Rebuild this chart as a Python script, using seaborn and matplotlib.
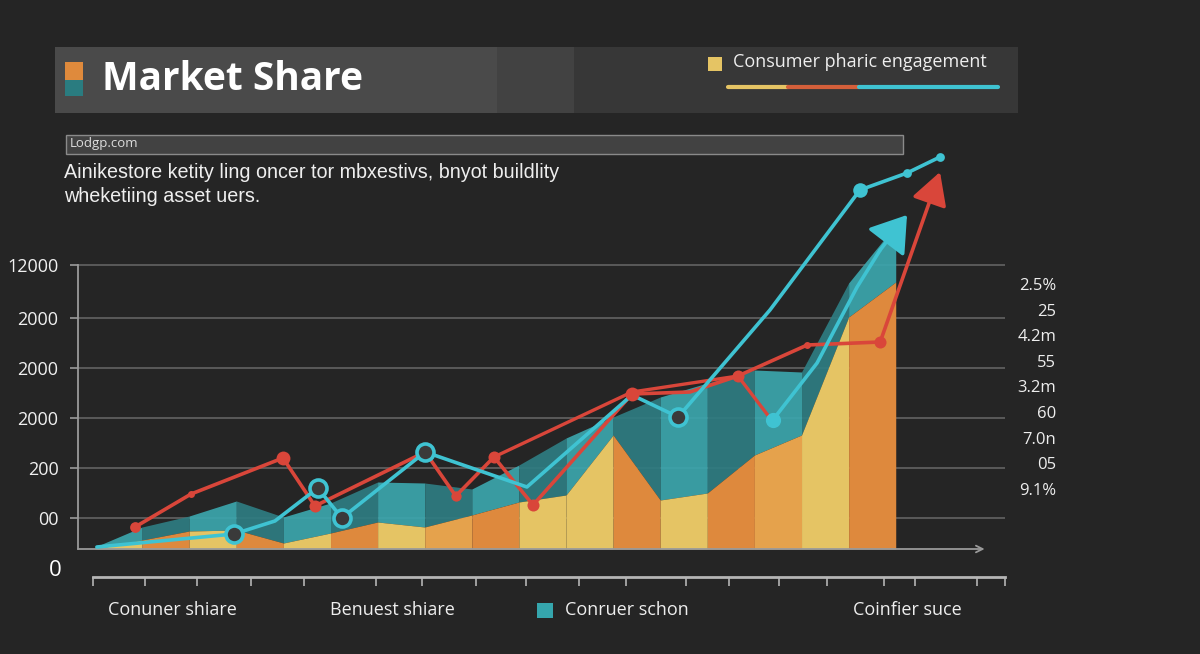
import numpy as np
import pandas as pd
import matplotlib.pyplot as plt
import seaborn as sns
from matplotlib.patches import Rectangle

# ---- data (x = column index, y = height above the baseline) ----
col_edges = list(range(18))
stack_top = [0, 9, 18, 19, 6, 16, 27, 22, 34, 47, 54, 114, 49, 56, 94, 114, 232, 267]
teal_top = [2, 22, 33, 48, 32, 46, 67, 66, 60, 84, 111, 132, 152, 166, 179, 177, 266, 324]
col_tone = ["y", "o", "y", "o", "y", "o", "y", "l", "o", "y", "y", "o", "y", "o", "l", "y", "o"]

red_x = [0.85, 2.04, 3.99, 4.67, 7.01, 7.66, 8.47, 9.30, 11.40, 12.63, 13.65, 15.12, 16.67, 17.94]
red_y = [22, 55, 91, 43, 97, 53, 92, 44, 155, 157, 173, 204, 207, 377]
red_b_x = [8.47, 11.40, np.nan, 13.65, 14.33]
red_b_y = [92, 157, np.nan, 173, 131]

teal_x = [0.04, 2.95, 3.82, 4.73, 5.24, 7.01, 9.17, 11.40, 12.38, 14.33, 16.24, 17.24, 17.94]
teal_y = [2, 15, 28, 61, 31, 97, 62, 154, 132, 239, 359, 376, 392]
teal_b_x = [14.39, 15.33, 16.18, 16.67, 17.24]
teal_b_y = [129, 186, 262, 299, 334]

y_ticks = [31, 81, 131, 181, 231, 284]
y_labels = ["00", "200", "2000", "2000", "2000", "12000"]
right_labels = ["2.5%", "25", "4.2m", "55", "3.2m", "60", "7.0n", "05", "9.1%"]
ruler_ticks = [-0.04, 1.06, 2.17, 3.31, 4.44, 5.96, 6.94, 8.09, 9.15, 10.28, 11.27,
               12.55, 13.46, 14.52, 15.54, 16.75, 17.41, 18.73, 19.32]
bottom_labels = ["Conuner shiare", "Benuest shiare", "Conruer schon", "Coinfier suce"]

# ---- style ----
BG = "#252525"
YEL, ORA, LOR = "#e5c464", "#de893d", "#e5a24c"
TEAL_L, TEAL_D = "#3ba6ad", "#2e7d82"
RED, CYAN = "#d9463a", "#3fc3d2"
tone = {"y": YEL, "o": ORA, "l": LOR}

sns.set_theme(style="dark", rc={"axes.facecolor": BG, "figure.facecolor": BG})
plt.rcParams["font.family"] = ["Open Sans", "DejaVu Sans"]

W, H = 1200, 654
fig = plt.figure(figsize=(12, 6.54), dpi=100)


def fx(x):
    return x / W


def fy(y):
    return 1 - y / H


ax = fig.add_axes([fx(78), fy(549), fx(1005) - fx(78), 409 / H])
ax.set_xlim(-0.361, 19.32)
ax.set_ylim(0, 409)

# faceted teal layer, then coloured columns
for i in range(len(col_edges) - 1):
    xs = col_edges[i:i + 2]
    ax.fill_between(xs, stack_top[i:i + 2], teal_top[i:i + 2],
                    color=TEAL_L if i % 2 == 0 else TEAL_D, alpha=0.92, lw=0, zorder=2)
    ax.fill_between(xs, 0, stack_top[i:i + 2], color=tone[col_tone[i]], lw=0, zorder=3)

# lines
sns.lineplot(x=red_x[:-1], y=red_y[:-1], color=RED, lw=2.6, sort=False,
             estimator=None, ax=ax, zorder=5)
sns.lineplot(x=red_b_x, y=red_b_y, color=RED, lw=2.4, sort=False,
             estimator=None, ax=ax, zorder=5)
sns.lineplot(x=teal_x, y=teal_y, color=CYAN, lw=2.6, sort=False,
             estimator=None, ax=ax, zorder=6)
sns.lineplot(x=teal_b_x[:-1], y=teal_b_y[:-1], color=CYAN, lw=2.6, sort=False,
             estimator=None, ax=ax, zorder=6)

# arrows at the end of the rising lines
ax.annotate("", xy=(red_x[-1], red_y[-1]), xytext=(red_x[-2], red_y[-2]),
            arrowprops=dict(arrowstyle="-|>,head_length=0.9,head_width=0.5",
                            color=RED, lw=2.6, mutation_scale=22,
                            shrinkA=0, shrinkB=0), zorder=7)
ax.annotate("", xy=(teal_b_x[-1], teal_b_y[-1]), xytext=(teal_b_x[-2], teal_b_y[-2]),
            arrowprops=dict(arrowstyle="-|>,head_length=0.9,head_width=0.6",
                            color=CYAN, lw=2.6, mutation_scale=24,
                            shrinkA=0, shrinkB=0), zorder=7)

# markers
red_dot = [60, 25, 100, 75, 75, 55, 75, 75, 100, 0, 75, 25, 75, 0]
red_alpha = [1, 1, 1, 1, 0.55, 1, 1, 1, 1, 1, 1, 1, 1, 1]
for x, y, s, a in zip(red_x, red_y, red_dot, red_alpha):
    if s:
        ax.scatter(x, y, s=s, color=RED if a == 1 else "#c07a70", zorder=8, lw=0)

teal_dot = ["", "h", "", "h", "h", "h", "", "", "h", "", "f", "s", "s"]
for x, y, kind in zip(teal_x, teal_y, teal_dot):
    if kind == "h":
        ax.scatter(x, y, s=150, facecolor="#3a3a3a", edgecolor=CYAN, lw=2.6, zorder=9)
    elif kind == "f":
        ax.scatter(x, y, s=110, color=CYAN, lw=0, zorder=9)
    elif kind == "s":
        ax.scatter(x, y, s=40, color=CYAN, lw=0, zorder=9)
ax.scatter(teal_b_x[0], teal_b_y[0], s=120, color=CYAN, lw=0, zorder=9)

# axes decoration
for s in ["top", "right", "bottom"]:
    ax.spines[s].set_visible(False)
ax.spines["left"].set_color("#9a9a9a")
ax.spines["left"].set_linewidth(1.3)
ax.spines["left"].set_bounds(0, y_ticks[-1])
ax.set_yticks(y_ticks)
ax.set_yticklabels(y_labels)
ax.set_xticks([])
ax.tick_params(axis="y", left=True, colors="#9a9a9a", length=6, width=1.2, pad=8,
               labelcolor="#f0f0f0", labelsize=13)
ax.grid(axis="y", color="#5a5a5a", lw=1.4)
ax.grid(axis="x", visible=False)
ax.set_axisbelow(True)
ax.annotate("", xy=(0.978, 0), xytext=(0, 0), xycoords="axes fraction",
            arrowprops=dict(arrowstyle="->", color="#9a9a9a", lw=1.3,
                            shrinkA=0, shrinkB=0), zorder=4)

# ruler below the chart
axr = fig.add_axes([fx(78), fy(577), fx(1005) - fx(78), 0.01])
axr.set_xlim(ax.get_xlim())
axr.set_facecolor("none")
for s in ["top", "right", "left"]:
    axr.spines[s].set_visible(False)
axr.spines["bottom"].set_color("#b5b5b5")
axr.spines["bottom"].set_linewidth(2)
axr.spines["bottom"].set_bounds(ruler_ticks[0], ruler_ticks[-1])
axr.set_xticks(ruler_ticks)
axr.set_xticklabels([])
axr.set_yticks([])
axr.tick_params(axis="x", bottom=True, direction="out", length=6.5, width=1.2,
                colors="#b5b5b5")
fig.text(fx(55), fy(570), "0", color="white", fontsize=16, ha="center", va="center")

# header band
for x0, x1, c in [(55, 497, "#4a4a4a"), (497, 574, "#424242"), (574, 1018, "#373737")]:
    fig.add_artist(Rectangle((fx(x0), fy(113)), fx(x1 - x0), 66 / H,
                             transform=fig.transFigure, color=c, lw=0, zorder=0))
fig.add_artist(Rectangle((fx(65), fy(80)), fx(18), 18 / H,
                         transform=fig.transFigure, color="#df8a3c", lw=0))
fig.add_artist(Rectangle((fx(65), fy(96)), fx(18), 16 / H,
                         transform=fig.transFigure, color="#2a7c80", lw=0))
fig.text(fx(102), fy(79), "Market Share", color="white", fontsize=28,
         fontweight="bold", ha="left", va="center")

# legend in header
fig.add_artist(Rectangle((fx(708), fy(71)), fx(14), 14 / H,
                         transform=fig.transFigure, color=YEL, lw=0))
fig.text(fx(733), fy(62), "Consumer pharic engagement", color="#eeeeee",
         fontsize=13, ha="left", va="center")
for x0, x1, c in [(728, 788, YEL), (788, 859, "#d45f3a"), (859, 998, CYAN)]:
    fig.add_artist(plt.Line2D([fx(x0), fx(x1)], [fy(87), fy(87)],
                              transform=fig.transFigure, color=c, lw=3))

# sub header
fig.add_artist(Rectangle((fx(66), fy(154)), fx(837), 19 / H,
                         transform=fig.transFigure, facecolor="#424242",
                         edgecolor="#8a8a8a", lw=1))
fig.text(fx(70), fy(144), "Lodgp.com", color="#dddddd", fontsize=9.5,
         ha="left", va="center")
fig.text(fx(64), fy(173), "Ainikestore ketity ling oncer tor mbxestivs, bnyot buildlity",
         color="#eeeeee", fontsize=14.2, ha="left", va="center",
         family=["Liberation Sans", "DejaVu Sans"])
fig.text(fx(64), fy(197), "wheketiing asset uers.", color="#eeeeee", fontsize=14.2,
         ha="left", va="center", family=["Liberation Sans", "DejaVu Sans"])

# right-hand labels
for i, lab in enumerate(right_labels):
    fig.text(fx(1056), fy(286 + 25.6 * i), lab, color="#eeeeee", fontsize=12,
             ha="right", va="center")

# bottom labels
fig.text(fx(172), fy(610), bottom_labels[0], color="#eeeeee", fontsize=13, ha="center", va="center")
fig.text(fx(392), fy(610), bottom_labels[1], color="#eeeeee", fontsize=13, ha="center", va="center")
fig.add_artist(Rectangle((fx(537), fy(618)), fx(16), 15 / H,
                         transform=fig.transFigure, color="#35a6ad", lw=0))
fig.text(fx(565), fy(610), bottom_labels[2], color="#eeeeee", fontsize=13, ha="left", va="center")
fig.text(fx(907), fy(610), bottom_labels[3], color="#eeeeee", fontsize=13, ha="center", va="center")

fig.savefig("out.png", dpi=100, facecolor=BG)
